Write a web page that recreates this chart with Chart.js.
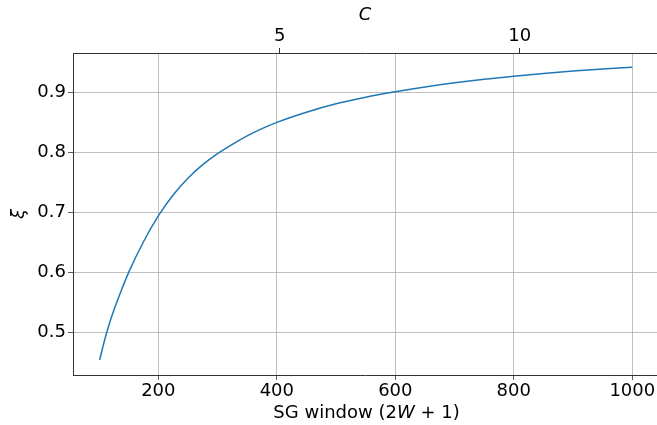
<html lang="en">
<head>
  <meta charset="UTF-8">
  <title>SG window</title>
  <script src="https://cdn.jsdelivr.net/npm/chart.js"></script>
  <style>
    html, body { margin: 0; padding: 0; background: #fff; overflow: hidden; }
    #wrap { width: 657px; height: 425px; }
  </style>
</head>
<body>
  <div id="wrap"><canvas id="viz" width="657" height="425"></canvas></div>
  <script>
    // values
    const windowSizes = [101, 107, 113, 125, 138, 150, 175, 200, 225, 250, 275, 300, 325, 350,
      375, 400, 450, 500, 550, 600, 650, 700, 750, 800, 850, 900, 950, 1000]
    const xiValues = [0.454, 0.478, 0.500, 0.537, 0.571, 0.600, 0.651, 0.694, 0.729, 0.757,
      0.7795, 0.798, 0.8135, 0.8275, 0.8395, 0.850, 0.867, 0.881, 0.892, 0.901, 0.909,
      0.916, 0.922, 0.927, 0.9315, 0.9356, 0.939, 0.942]
    const windowTicks = [200, 400, 600, 800, 1000]
    const xiTicks = [0.5, 0.6, 0.7, 0.8, 0.9]
    const cTicks = [5, 10]
    const windowPerC = 81

    const xMin = 56, xMax = 1041.7
    const font = { family: 'DejaVu Sans', size: 18 }
    const spine = '#333'

    const fixTicks = list => scale => { scale.ticks = list.map(v => ({ value: v })) }

    // x label has an italic W, so it is drawn by hand
    const xLabel = {
      id: 'xLabel',
      afterDraw(chart) {
        const ctx = chart.ctx
        const parts = [
          ['SG window (2', 'normal'],
          ['W', 'italic'],
          [' + 1)', 'normal']
        ]
        ctx.save()
        ctx.fillStyle = '#000'
        ctx.textBaseline = 'alphabetic'
        let total = 0
        parts.forEach(p => {
          ctx.font = p[1] + ' 18px "DejaVu Sans"'
          total += ctx.measureText(p[0]).width
        })
        let x = (chart.chartArea.left + 660) / 2 - total / 2
        parts.forEach(p => {
          ctx.font = p[1] + ' 18px "DejaVu Sans"'
          ctx.fillText(p[0], x, 418)
          x += ctx.measureText(p[0]).width
        })
        ctx.restore()
      }
    }

    new Chart(document.getElementById('viz'), {
      type: 'line',
      data: {
        datasets: [{
          data: windowSizes.map((w, i) => ({ x: w, y: xiValues[i] })),
          borderColor: '#1f77b4',
          borderWidth: 1.5,
          pointRadius: 0,
          cubicInterpolationMode: 'monotone',
          xAxisID: 'x',
          yAxisID: 'y'
        }]
      },
      options: {
        responsive: false,
        animation: false,
        events: [],
        layout: { padding: 0 },
        plugins: { legend: { display: false }, tooltip: { enabled: false } },
        scales: {
          x: {
            type: 'linear',
            position: 'bottom',
            min: xMin,
            max: xMax,
            afterBuildTicks: fixTicks(windowTicks),
            afterFit: s => { s.height = 50 },
            grid: { color: '#b0b0b0', lineWidth: 0.8, tickColor: spine, tickLength: 5 },
            border: { color: spine, width: 1 },
            ticks: { color: '#000', font, padding: 1, maxRotation: 0, callback: v => String(v) }
          },
          c: {
            type: 'linear',
            position: 'top',
            min: xMin / windowPerC,
            max: xMax / windowPerC,
            afterBuildTicks: fixTicks(cTicks),
            afterFit: s => { s.height = 53 },
            grid: { drawOnChartArea: false, tickColor: spine, tickLength: 5 },
            border: { color: spine, width: 1 },
            ticks: { color: '#000', font, padding: 1, maxRotation: 0 },
            title: {
              display: true,
              text: 'C',
              color: '#000',
              font: { family: 'DejaVu Sans', size: 18, style: 'italic' },
              padding: { top: 5, bottom: 0 }
            }
          },
          y: {
            type: 'linear',
            min: 0.4288,
            max: 0.9657,
            afterBuildTicks: fixTicks(xiTicks),
            afterFit: s => { s.width = 73 },
            grid: { color: '#b0b0b0', lineWidth: 0.8, tickColor: spine, tickLength: 5 },
            border: { color: spine, width: 1 },
            ticks: { color: '#000', font, padding: 2, callback: v => v.toFixed(1) },
            title: {
              display: true,
              text: 'ξ',
              color: '#000',
              font: { family: 'DejaVu Sans', size: 18, style: 'italic' },
              padding: { top: 9, bottom: 0 }
            }
          }
        }
      },
      plugins: [xLabel]
    })
  </script>
</body>
</html>
